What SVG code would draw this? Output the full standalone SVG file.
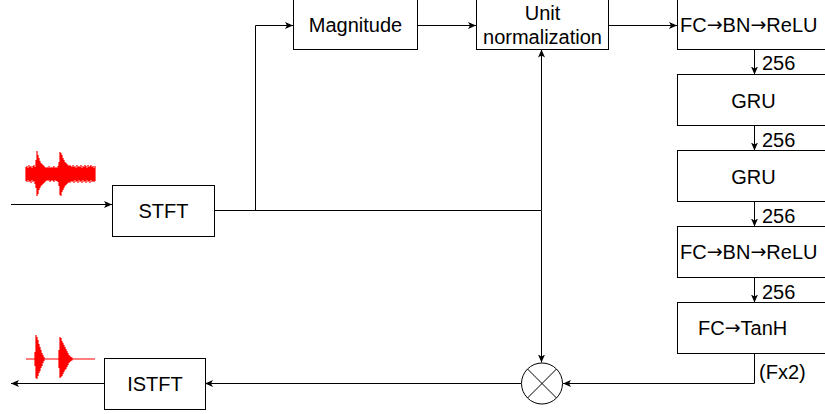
<svg xmlns="http://www.w3.org/2000/svg" width="825" height="414" viewBox="0 0 825 414">
  <style>
    .box { fill: #ffffff; stroke: #000000; stroke-width: 1; }
    .lbl { font-family: "Liberation Sans", Arial, sans-serif; font-size: 20px; fill: #000000; }
    .mid { text-anchor: middle; }
    .arr { font-family: "DejaVu Sans", sans-serif; font-size: 19px; }
    .wire { fill: none; stroke: #000000; stroke-width: 1; }
    .wave { fill: none; stroke: #ff0000; stroke-width: 1.2; }
  </style>
  <defs>
    <marker id="arrow" markerUnits="userSpaceOnUse" markerWidth="9" markerHeight="8" refX="8" refY="3.5" orient="auto">
      <path d="M0,0 L8,3.5 L0,7 L2,3.5 Z" fill="#000000"/>
    </marker>
  </defs>

  <!-- input waveform -->
  <g id="wave-in">
    <path class="wave" d="M26 167V181M27 166V182M28 168V180M29 165V182M30 167V181M31 166V183M32 168V180M33 166V182M34 165V181M35 167V184M36 160V188M37 151V196M38 155V194M39 158V190M40 161V188M41 163V186M42 164V185M43 165V184M44 166V183M45 167V182M46 168V181M47 167V180M48 168V181M49 166V180M50 168V182M51 167V181M52 168V180M53 167V181M54 166V182M55 168V180M56 167V181M57 168V181M58 166V182M59 162V186M60 152V195M61 153V196M62 155V192M63 158V190M64 160V188M65 162V186M66 163V185M67 164V184M68 165V183M69 166V182M70 165V183M71 166V181M72 167V182M73 165V181M74 167V183M75 166V180M76 168V182M77 165V181M78 167V183M79 166V180M80 167V182M81 165V181M82 168V183M83 166V180M84 167V182M85 165V181M86 166V183M87 168V180M88 165V182M89 167V181M90 166V183M91 165V180M92 167V182M93 166V181M94 168V182M95 166V181"/>
  </g>

  <!-- output waveform -->
  <g id="wave-out">
    <path class="wave" d="M26 359H95"/>
    <path class="wave" d="M35 352V366M36 335V378M37 337V379M38 340V376M39 344V373M40 347V371M41 350V368M42 353V366M43 355V363M44 357V361M59 350V368M60 337V378M61 338V377M62 341V376M63 343V374M64 345V372M65 347V370M66 349V369M67 351V367M68 353V365M69 355V363M70 356V362M71 357V361M72 357.5V360.5"/>
  </g>

  <!-- connectors -->
  <g id="connectors">
    <path class="wire" d="M11 204.5H112" marker-end="url(#arrow)"/>
    <path class="wire" d="M214 210.5H541.5"/>
    <path class="wire" d="M255.5 210.5V25.5H293" marker-end="url(#arrow)"/>
    <path class="wire" d="M417 25.5H476" marker-end="url(#arrow)"/>
    <path class="wire" d="M608 25.5H677" marker-end="url(#arrow)"/>
    <path class="wire" d="M541.5 210.5V49.5" marker-end="url(#arrow)"/>
    <path class="wire" d="M541.5 210.5V362.5" marker-end="url(#arrow)"/>
    <path class="wire" d="M754.5 49.5V74.5" marker-end="url(#arrow)"/>
    <path class="wire" d="M754.5 125.5V150.5" marker-end="url(#arrow)"/>
    <path class="wire" d="M754.5 201.5V226.5" marker-end="url(#arrow)"/>
    <path class="wire" d="M754.5 277.5V302.5" marker-end="url(#arrow)"/>
    <path class="wire" d="M754.5 353.5V383.5H563" marker-end="url(#arrow)"/>
    <path class="wire" d="M521 383.5H205" marker-end="url(#arrow)"/>
    <path class="wire" d="M104 383.5H11" marker-end="url(#arrow)"/>
    <text class="lbl" x="762" y="70">256</text>
    <text class="lbl" x="762" y="147">256</text>
    <text class="lbl" x="762" y="223">256</text>
    <text class="lbl" x="762" y="299">256</text>
    <text class="lbl" x="759" y="379">(Fx2)</text>
  </g>

  <g id="stft">
    <rect class="box" x="112.5" y="185.5" width="102" height="51"/>
    <text class="lbl mid" x="163.5" y="218">STFT</text>
  </g>

  <g id="istft">
    <rect class="box" x="104.5" y="358.5" width="101" height="51"/>
    <text class="lbl mid" x="155" y="391">ISTFT</text>
  </g>

  <g id="magnitude">
    <rect class="box" x="293.5" y="-1.5" width="124" height="51"/>
    <text class="lbl mid" x="355.5" y="32">Magnitude</text>
  </g>

  <g id="unit-norm">
    <rect class="box" x="476.5" y="-1.5" width="132" height="51"/>
    <text class="lbl mid" x="542.5" y="20">Unit</text>
    <text class="lbl mid" x="542.5" y="44">normalization</text>
  </g>

  <g id="fc-bn-relu-1">
    <rect class="box" x="677.5" y="-1.5" width="152" height="51"/>
    <text class="lbl" x="680" y="32">FC<tspan class="arr" dy="-1">→</tspan><tspan dy="1">BN</tspan><tspan class="arr" dy="-1">→</tspan><tspan dy="1">ReLU</tspan></text>
  </g>

  <g id="gru-1">
    <rect class="box" x="677.5" y="74.5" width="152" height="51"/>
    <text class="lbl mid" x="753.5" y="108">GRU</text>
  </g>

  <g id="gru-2">
    <rect class="box" x="677.5" y="150.5" width="152" height="51"/>
    <text class="lbl mid" x="753.5" y="184">GRU</text>
  </g>

  <g id="fc-bn-relu-2">
    <rect class="box" x="677.5" y="226.5" width="152" height="51"/>
    <text class="lbl" x="680" y="259">FC<tspan class="arr" dy="-1">→</tspan><tspan dy="1">BN</tspan><tspan class="arr" dy="-1">→</tspan><tspan dy="1">ReLU</tspan></text>
  </g>

  <g id="fc-tanh">
    <rect class="box" x="677.5" y="302.5" width="152" height="51"/>
    <text class="lbl" x="698" y="335">FC<tspan class="arr" dy="-1">→</tspan><tspan dy="1">TanH</tspan></text>
  </g>

  <g id="multiply">
    <circle class="box" cx="542" cy="383.5" r="20.5"/>
    <path class="wire" d="M527.5 369L556.5 398M556.5 369L527.5 398"/>
  </g>
</svg>
